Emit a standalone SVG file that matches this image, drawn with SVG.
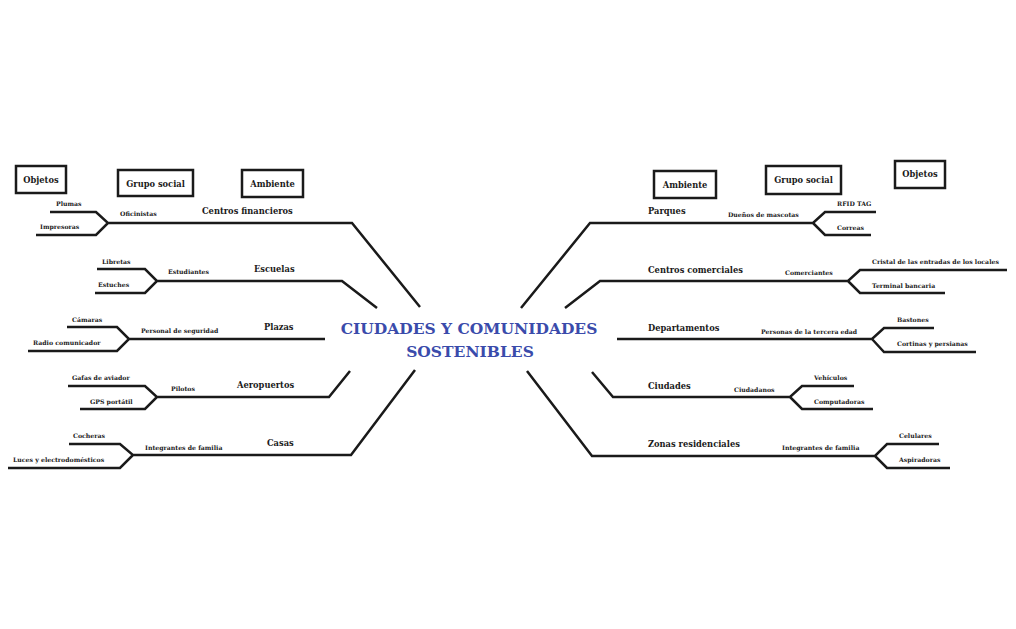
<svg xmlns="http://www.w3.org/2000/svg" width="1016" height="629" viewBox="0 0 1016 629">
<style>
.l{fill:none;stroke:#1a1a1a;stroke-width:2.5;stroke-linejoin:miter}
.b{fill:#fff;stroke:#1a1a1a;stroke-width:2.5}
text{font-family:"DejaVu Serif","Liberation Serif",serif;font-weight:bold;fill:#1a1a1a}
.s{font-size:6.2px}
.m{font-size:8.3px}
.h{font-size:8.3px;text-anchor:middle}
.t{font-size:15.5px;fill:#3a4bab;text-anchor:middle}
</style>
<rect width="1016" height="629" fill="#fff"/>
<g id="connectors">
<path class="l" d="M36,235H96L108,223L96,212H50M108,223H352L420,307"/>
<path class="l" d="M95,293H145L157,281L145,269H97M157,281H342L377,308"/>
<path class="l" d="M28,351H117L129,339L117,327H67M129,339H325"/>
<path class="l" d="M80,409H145L157,397L145,386H68M157,397H329L350,371"/>
<path class="l" d="M8,468H120L133,455L120,444H69M133,455H351L415,370"/>
<path class="l" d="M521,308L590,223H813L825,212H876M813,223L825,235H871"/>
<path class="l" d="M565,308L600,281H848L860,270H1007M848,281L860,293H945"/>
<path class="l" d="M617,339H872L884,328H934M872,339L884,352H976"/>
<path class="l" d="M592,372L613,397H790L802,386H854M790,397L802,409H873"/>
<path class="l" d="M527,371L592,456H875L887,444H939M875,456L887,468H950"/>
</g>
<g id="title"><text class="t" x="469" y="334">CIUDADES Y COMUNIDADES</text><text class="t" x="470" y="357">SOSTENIBLES</text></g>
<g id="hdr-left">
<rect class="b" x="16" y="166" width="50" height="27"/><text class="h" x="41" y="183">Objetos</text>
<rect class="b" x="118" y="170" width="75" height="26"/><text class="h" x="155.5" y="187">Grupo social</text>
<rect class="b" x="242" y="170" width="61" height="27"/><text class="h" x="272.5" y="187">Ambiente</text>
</g>
<g id="hdr-right">
<rect class="b" x="654" y="171" width="62" height="27"/><text class="h" x="685" y="188">Ambiente</text>
<rect class="b" x="766" y="166" width="75" height="28"/><text class="h" x="803.5" y="183">Grupo social</text>
<rect class="b" x="895" y="161" width="50" height="27"/><text class="h" x="920" y="177">Objetos</text>
</g>
<g id="n-centros-financieros"><text class="m" x="202" y="214">Centros financieros</text><text class="s" x="120" y="216">Oficinistas</text><text class="s" x="56" y="206">Plumas</text><text class="s" x="40" y="229">Impresoras</text></g>
<g id="n-escuelas"><text class="m" x="254" y="272">Escuelas</text><text class="s" x="168" y="274">Estudiantes</text><text class="s" x="102" y="264">Libretas</text><text class="s" x="98" y="287">Estuches</text></g>
<g id="n-plazas"><text class="m" x="264" y="330">Plazas</text><text class="s" x="141" y="333">Personal de seguridad</text><text class="s" x="72" y="322">Cámaras</text><text class="s" x="33" y="345">Radio comunicador</text></g>
<g id="n-aeropuertos"><text class="m" x="237" y="388">Aeropuertos</text><text class="s" x="171" y="391">Pilotos</text><text class="s" x="72" y="380">Gafas de aviador</text><text class="s" x="90" y="404">GPS portátil</text></g>
<g id="n-casas"><text class="m" x="267" y="446">Casas</text><text class="s" x="145" y="450">Integrantes de familia</text><text class="s" x="73" y="438">Cocheras</text><text class="s" x="13" y="462">Luces y electrodomésticos</text></g>
<g id="n-parques"><text class="m" x="648" y="214">Parques</text><text class="s" x="728" y="217">Dueños de mascotas</text><text class="s" x="837" y="206">RFID TAG</text><text class="s" x="837" y="230">Correas</text></g>
<g id="n-centros-comerciales"><text class="m" x="648" y="273">Centros comerciales</text><text class="s" x="785" y="275">Comerciantes</text><text class="s" x="872" y="264">Cristal de las entradas de los locales</text><text class="s" x="872" y="288">Terminal bancaria</text></g>
<g id="n-departamentos"><text class="m" x="648" y="331">Departamentos</text><text class="s" x="761" y="334">Personas de la tercera edad</text><text class="s" x="897" y="322">Bastones</text><text class="s" x="897" y="346">Cortinas y persianas</text></g>
<g id="n-ciudades"><text class="m" x="648" y="389">Ciudades</text><text class="s" x="734" y="392">Ciudadanos</text><text class="s" x="814" y="380">Vehículos</text><text class="s" x="814" y="404">Computadoras</text></g>
<g id="n-zonas"><text class="m" x="648" y="447">Zonas residenciales</text><text class="s" x="782" y="450">Integrantes de familia</text><text class="s" x="899" y="438">Celulares</text><text class="s" x="899" y="462">Aspiradoras</text></g>
</svg>
